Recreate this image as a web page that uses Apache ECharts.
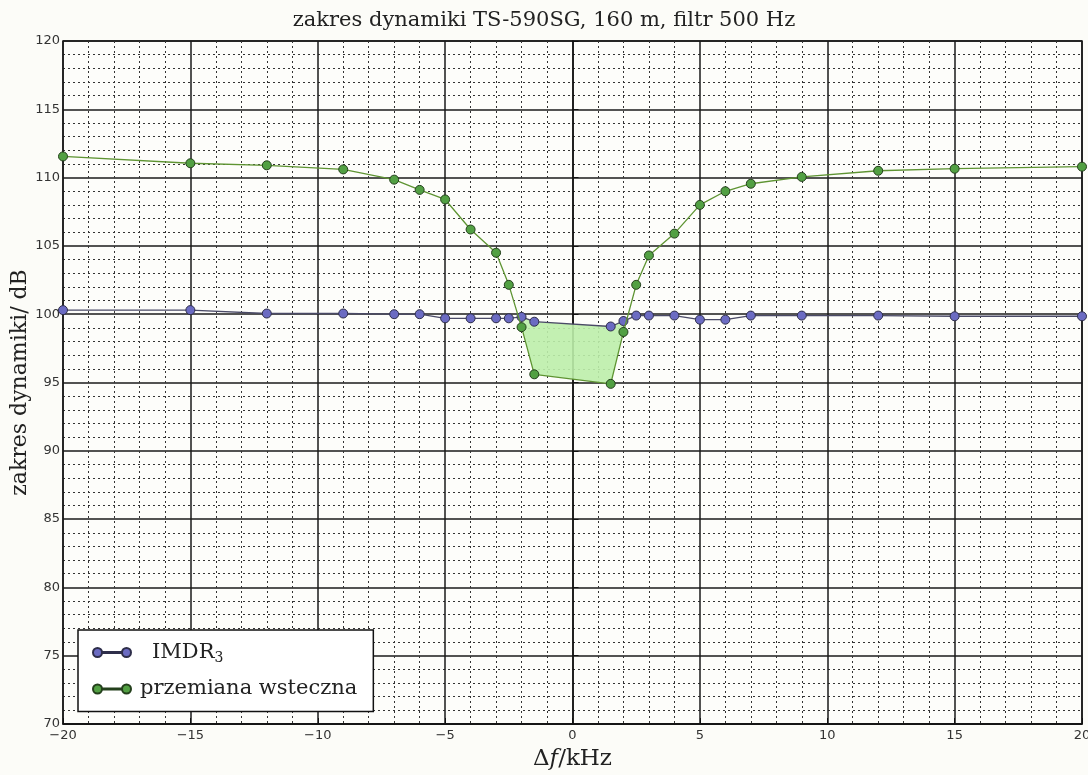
<!DOCTYPE html>
<html>
<head>
<meta charset="utf-8">
<script src="https://cdn.jsdelivr.net/npm/echarts@6/dist/echarts.min.js"></script>
<style>
  html, body { margin: 0; padding: 0; background: #fcfcf8; }
  #main { width: 1088px; height: 775px; }
</style>
</head>
<body>
<div id="main"></div>
<script>
// przesunięcie częstotliwości (kHz), wspólne dla obu serii
var df = [-20, -15, -12, -9, -7, -6, -5, -4, -3, -2.5, -2, -1.5, 1.5, 2, 2.5, 3, 4, 5, 6, 7, 9, 12, 15, 20];
// IMDR3 (dB)
var imdr = [100.3, 100.3, 100.05, 100.05, 100.0, 100.0, 99.7, 99.7, 99.7, 99.7, 99.8, 99.45, 99.1, 99.5, 99.9, 99.9, 99.9, 99.6, 99.6, 99.9, 99.9, 99.9, 99.85, 99.85];
// przemiana wsteczna (dB)
var recip = [111.55, 111.05, 110.9, 110.6, 109.85, 109.1, 108.4, 106.2, 104.5, 102.15, 99.05, 95.6, 94.9, 98.7, 102.15, 104.3, 105.9, 108.0, 109.0, 109.55, 110.05, 110.5, 110.65, 110.8];

function pairs(xs, ys) {
  return xs.map(function (x, i) { return [x, ys[i]]; });
}

// obszar, gdzie przemiana wsteczna jest poniżej IMDR3: [x, góra, dół]
var fillPts = [];
df.forEach(function (x, i) {
  if (recip[i] < imdr[i]) fillPts.push([x, imdr[i], recip[i]]);
});

var serif = '"DejaVu Serif", "Liberation Serif", serif';
var sans = '"DejaVu Sans", sans-serif';
var minus = function (v) { return String(v).replace('-', '\u2212'); };
var legendIcon = 'path://M0,4.5a4.5,4.5 0 1,0 9,0a4.5,4.5 0 1,0 -9,0z M9,4L29,4L29,5L9,5z M29,4.5a4.5,4.5 0 1,0 9,0a4.5,4.5 0 1,0 -9,0z';

function renderFill(params, api) {
  if (params.dataIndex !== 0) return;
  var top = [], bottom = [];
  fillPts.forEach(function (p) {
    top.push(api.coord([p[0], p[1]]));
    bottom.unshift(api.coord([p[0], p[2]]));
  });
  return {
    type: 'polygon',
    shape: { points: top.concat(bottom) },
    style: { fill: '#bdeeaa', opacity: 0.9 }
  };
}

var chart = echarts.init(document.getElementById('main'));
var option = {
  backgroundColor: '#fcfcf8',
  animation: false,
  title: {
    text: 'zakres dynamiki TS-590SG, 160 m, filtr 500 Hz',
    left: 'center',
    top: 5,
    textStyle: { fontFamily: serif, fontSize: 21, fontWeight: 'normal', color: '#222' }
  },
  grid: {
    left: 63, right: 6, top: 41, bottom: 51,
    outerBoundsMode: 'none',
    show: true,
    borderColor: '#111',
    borderWidth: 1.5,
    backgroundColor: '#fdfdfa'
  },
  legend: {
    orient: 'vertical',
    left: 78,
    top: 630,
    padding: [12, 16, 12, 14],
    itemGap: 13,
    itemWidth: 38,
    itemHeight: 9,
    backgroundColor: '#ffffff',
    borderColor: '#111',
    borderWidth: 1.5,
    data: [
      { name: 'IMDR3', icon: legendIcon },
      { name: 'przemiana wsteczna', icon: legendIcon }
    ],
    formatter: function (name) {
      if (name === 'IMDR3') return '{b|IMDR}{s|3}';
      return '{a|' + name + '}';
    },
    textStyle: {
      fontFamily: serif, fontSize: 21, color: '#222',
      rich: {
        a: { fontFamily: serif, fontSize: 21, color: '#222', lineHeight: 26, padding: [0, 0, 0, 4] },
        b: { fontFamily: serif, fontSize: 21, color: '#222', lineHeight: 26, padding: [0, 0, 0, 16] },
        s: { fontFamily: serif, fontSize: 14, color: '#222', padding: [12, 0, 0, 0] }
      }
    }
  },
  xAxis: {
    type: 'value',
    min: -20, max: 20, interval: 5,
    name: 'Δ{i|f}/kHz',
    nameLocation: 'middle',
    nameGap: 24,
    nameTextStyle: {
      fontFamily: serif, fontSize: 23, color: '#222',
      rich: { i: { fontFamily: serif, fontSize: 23, fontStyle: 'italic', color: '#222' } }
    },
    axisLine: { lineStyle: { color: '#111', width: 1.5 } },
    axisTick: { inside: true, length: 6, lineStyle: { color: '#111' } },
    axisLabel: { fontFamily: sans, fontSize: 13, color: '#333', margin: 5, formatter: minus },
    minorTick: { show: true, splitNumber: 5, length: 0 },
    splitLine: { show: true, lineStyle: { color: '#1a1a1a', width: 1.5 } },
    minorSplitLine: { show: true, lineStyle: { color: '#333', width: 1, type: [2, 3] } }
  },
  yAxis: {
    type: 'value',
    min: 70, max: 120, interval: 5,
    name: 'zakres dynamiki/ dB',
    nameLocation: 'middle',
    nameGap: 32,
    nameMoveOverlap: false,
    nameTextStyle: { fontFamily: serif, fontSize: 22, color: '#222' },
    axisLine: { show: true, lineStyle: { color: '#111', width: 1.5 } },
    axisTick: { inside: true, length: 6, lineStyle: { color: '#111' } },
    axisLabel: { fontFamily: sans, fontSize: 13, color: '#333', margin: 3 },
    minorTick: { show: true, splitNumber: 5, length: 0 },
    splitLine: { show: true, lineStyle: { color: '#1a1a1a', width: 1.5 } },
    minorSplitLine: { show: true, lineStyle: { color: '#333', width: 1, type: [2, 3] } }
  },
  series: [
    {
      name: 'fill',
      type: 'custom',
      data: fillPts,
      renderItem: renderFill,
      encode: { x: 0, y: [1, 2] },
      silent: true,
      z: 1
    },
    {
      name: 'IMDR3',
      type: 'line',
      data: pairs(df, imdr),
      symbol: 'circle',
      symbolSize: 9,
      lineStyle: { color: '#4a4a66', width: 1.3 },
      itemStyle: { color: '#6b6bc2', borderColor: '#2e2e4a', borderWidth: 1 },
      z: 3
    },
    {
      name: 'przemiana wsteczna',
      type: 'line',
      data: pairs(df, recip),
      symbol: 'circle',
      symbolSize: 9,
      lineStyle: { color: '#5e9432', width: 1.3 },
      itemStyle: { color: '#52a043', borderColor: '#24401c', borderWidth: 1 },
      z: 4
    }
  ]
};
chart.setOption(option);
</script>
</body>
</html>
